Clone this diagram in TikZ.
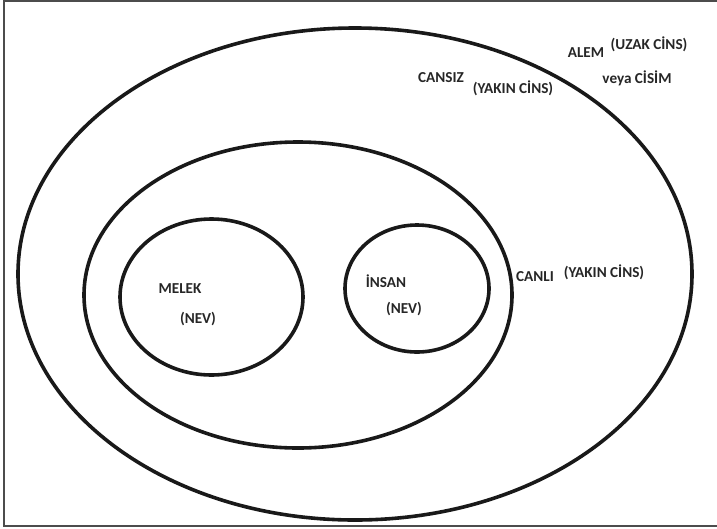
\documentclass[tikz,border=0pt]{standalone}
\usepackage{fontspec}
\setmainfont{Carlito}
\begin{document}
\begin{tikzpicture}[x=1pt,y=-1pt,
  ring/.style={line width=3.6pt,draw=black!90},
  lbl/.style={font=\bfseries\fontsize{15.2}{17}\selectfont,text=black!85,inner sep=0pt,anchor=center},
  frameline/.style={line width=1.4pt,draw=black!70}]
\useasboundingbox (0,0) rectangle (717,528);
% frame
\draw[frameline] (717,1) -- (4,1) -- (4,526) -- (717,526);
% ellipses
\draw[ring] (355,274) ellipse [x radius=337, y radius=246];
\draw[ring] (298,295) ellipse [x radius=214, y radius=153];
\draw[ring] (211.5,297) ellipse [x radius=91.5, y radius=78];
\draw[ring] (417,288.5) ellipse [x radius=72, y radius=63.5];
% labels
\node[lbl] (alem) at (586,53) {ALEM};
\node[lbl] (uzak) at (649,44) {(UZAK CİNS)};
\node[lbl] (veya) at (637,78) {veya CİSİM};
\node[lbl] (cansiz) at (441,78) {CANSIZ};
\node[lbl] (yakin1) at (513,88) {(YAKIN CİNS)};
\node[lbl] (melek) at (180,289) {MELEK};
\node[lbl] (nev1) at (198,319) {(NEV)};
\node[lbl] (insan) at (386,281) {İNSAN};
\node[lbl] (nev2) at (404,309) {(NEV)};
\node[lbl] (canli) at (535,277) {CANLI};
\node[lbl] (yakin2) at (604,272) {(YAKIN CİNS)};
\end{tikzpicture}
\end{document}
